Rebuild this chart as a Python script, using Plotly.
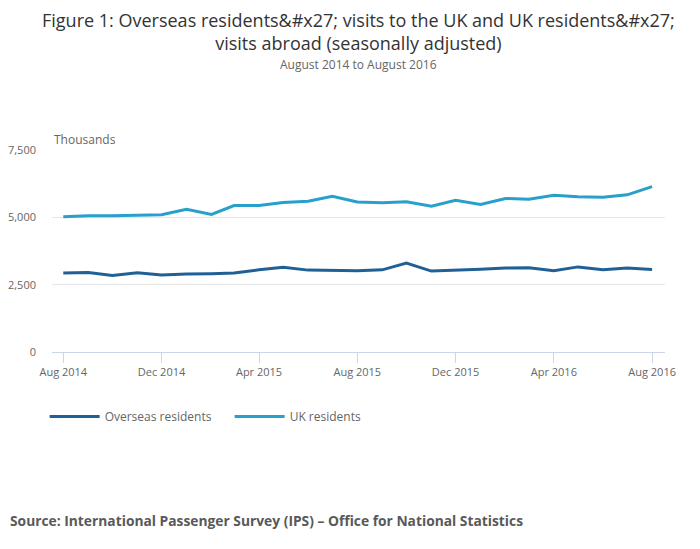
import plotly.graph_objects as go

# monthly, Aug 2014 - Aug 2016 (thousands)
months = ['2014-08-01', '2014-09-01', '2014-10-01', '2014-11-01', '2014-12-01',
          '2015-01-01', '2015-02-01', '2015-03-01', '2015-04-01', '2015-05-01',
          '2015-06-01', '2015-07-01', '2015-08-01', '2015-09-01', '2015-10-01',
          '2015-11-01', '2015-12-01', '2016-01-01', '2016-02-01', '2016-03-01',
          '2016-04-01', '2016-05-01', '2016-06-01', '2016-07-01', '2016-08-01']

overseas = [2930, 2955, 2845, 2940, 2855, 2895, 2905, 2930, 3050, 3150,
            3040, 3040, 3015, 3050, 3300, 3005, 3050, 3075, 3115, 3125,
            3015, 3160, 3050, 3115, 3065]

uk = [5025, 5060, 5060, 5075, 5100, 5295, 5110, 5440, 5440, 5550,
      5600, 5785, 5570, 5540, 5575, 5415, 5635, 5480, 5700, 5675,
      5820, 5760, 5750, 5835, 6140]

tick_dates = ['2014-08-01', '2014-12-01', '2015-04-01', '2015-08-01',
              '2015-12-01', '2016-04-01', '2016-08-01']
tick_labels = ['Aug 2014', 'Dec 2014', 'Apr 2015', 'Aug 2015',
               'Dec 2015', 'Apr 2016', 'Aug 2016']

y_ticks = [0, 2500, 5000, 7500]

fig = go.Figure()
fig.add_trace(go.Scatter(x=months, y=overseas, name='Overseas residents',
                         mode='lines', line=dict(color='#206095', width=3)))
fig.add_trace(go.Scatter(x=months, y=uk, name='UK residents',
                         mode='lines', line=dict(color='#27a0cc', width=3)))

# page body adds an 8px margin, so the figure is a bit smaller than the window
fig.update_layout(
    width=684, height=533,
    paper_bgcolor='white', plot_bgcolor='white',
    font=dict(family='Open Sans', color='#707070', size=11),
    margin=dict(l=44, r=27, t=142, b=189, autoexpand=False),
    xaxis=dict(
        type='date',
        range=['2014-07-18', '2016-08-17'],
        tickvals=tick_dates, ticktext=tick_labels,
        showgrid=False, showline=True, linecolor='#ccd6eb', linewidth=1,
        ticks='outside', ticklen=10, tickcolor='#ccd6eb',
        tickfont=dict(size=11, color='#666666'), automargin=False),
    yaxis=dict(
        range=[0, 7500], tickvals=y_ticks, tickformat=',',
        showgrid=True, gridcolor='#e6e6e6', zeroline=False,
        ticklabelstandoff=15, automargin=False,
        tickfont=dict(size=11, color='#666666')),
    legend=dict(orientation='h', x=-0.012, xanchor='left', y=-0.247, yanchor='top',
                font=dict(size=12, color='#666666'), itemwidth=50,
                entrywidth=120, entrywidthmode='pixels'),
    showlegend=True,
)

fig.add_annotation(
    text="Figure 1: Overseas residents&amp;#x27; visits to the UK and UK residents&amp;#x27;<br>visits abroad (seasonally adjusted)",
    xref='paper', yref='paper', x=0.5, y=1.588, xanchor='center', yanchor='middle',
    showarrow=False, font=dict(family='Open Sans', size=18, color='#333333'))
fig.add_annotation(text='August 2014 to August 2016', xref='paper', yref='paper',
                   x=0.5, y=1.4257, yanchor='middle', showarrow=False,
                   font=dict(size=12, color='#666666'))
fig.add_annotation(text='Thousands', xref='paper', yref='paper',
                   x=0, y=1, xanchor='left', yanchor='bottom', showarrow=False,
                   font=dict(size=12, color='#666666'))
fig.add_annotation(text='<b>Source: International Passenger Survey (IPS) – Office for National Statistics</b>',
                   xref='paper', yref='paper', x=-0.0718, y=-0.8366, xanchor='left',
                   yanchor='middle', showarrow=False,
                   font=dict(size=13.8, color='#595959'))

fig.write_html('out.html')
